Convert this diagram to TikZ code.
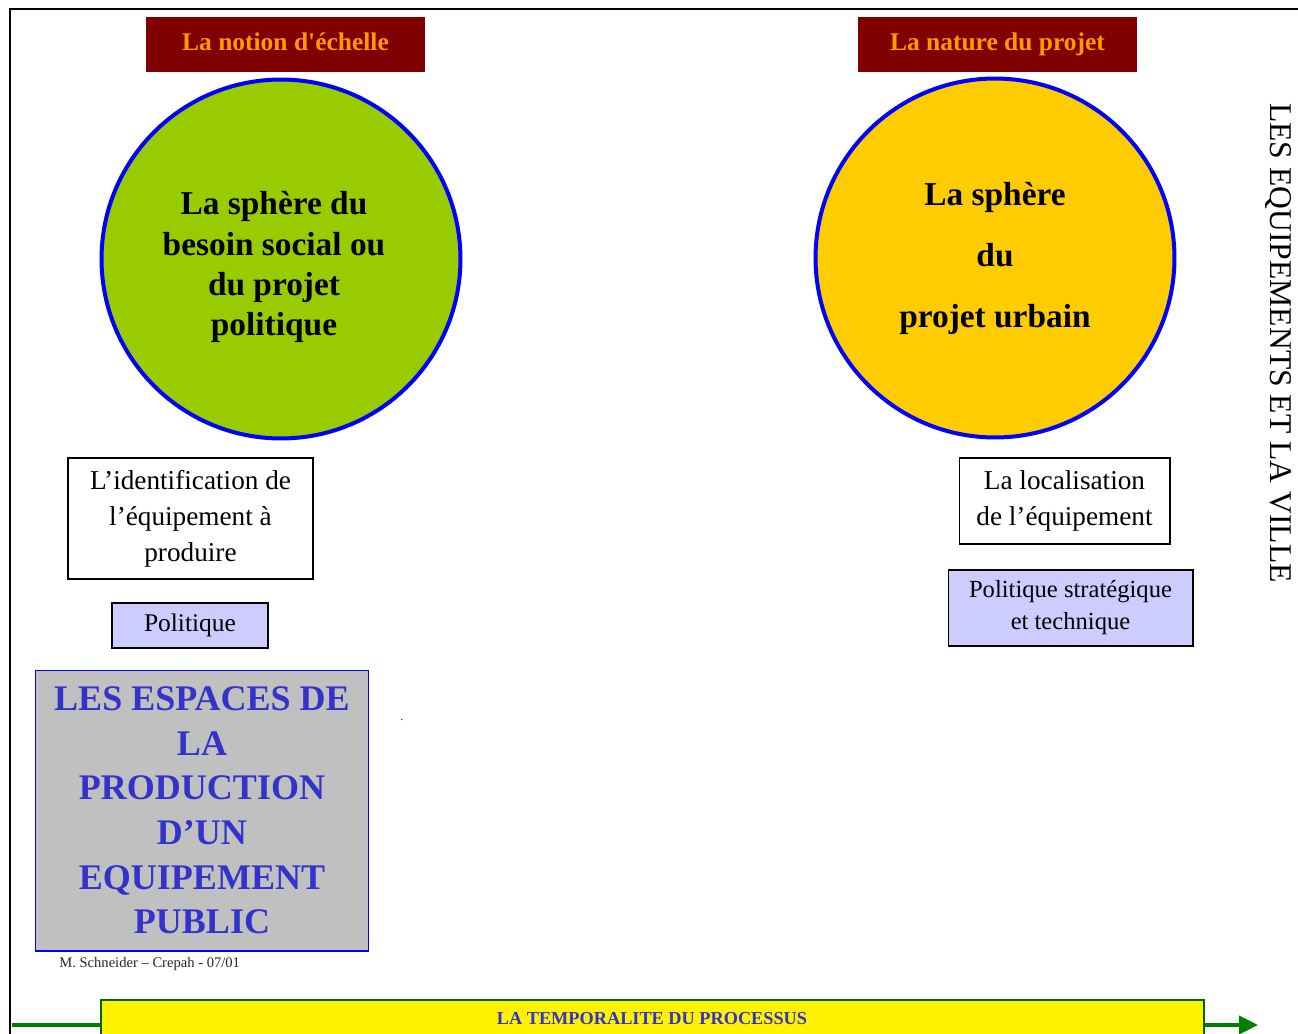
\documentclass[tikz,border=0pt]{standalone}
\usepackage{fontspec}
\setmainfont{Liberation Serif}
\usetikzlibrary{arrows.meta}
\definecolor{titlered}{HTML}{800000}
\definecolor{titleorange}{HTML}{FF9900}
\definecolor{sphgreen}{HTML}{99CC00}
\definecolor{sphyellow}{HTML}{FFCC00}
\definecolor{lavender}{HTML}{CCCCFF}
\definecolor{espblue}{HTML}{3333CC}
\definecolor{espgray}{HTML}{C0C0C0}
\definecolor{timegreen}{HTML}{008000}
\tikzset{
  titlebox/.style={fill=titlered, text=titleorange, inner sep=0pt,
    minimum width=5.58cm, minimum height=1.1cm, text height=10pt, text depth=3pt,
    font=\fontsize{14.5}{17}\selectfont\bfseries},
  sphere/.style={circle, draw=blue, line width=0.08cm, minimum size=7.18cm,
    inner sep=0pt, align=center, font=\fontsize{19}{22.8}\selectfont\bfseries},
  stagebox/.style={draw, line width=0.6pt, inner sep=0pt, align=center,
    font=\fontsize{15.5}{20.5}\selectfont},
  actorbox/.style={stagebox, fill=lavender},
}

\begin{document}
\begin{tikzpicture}[x=0.02cm, y=-0.02cm]
\useasboundingbox (0,0) rectangle (1298,1034);
% page frame
\draw[line width=0.04cm] (10,1050) -- (10,9) -- (1310,9);

% titles
\node[titlebox] (echelle) at (285.5,44.5) {La notion d\textquotesingle échelle};
\node[titlebox] (nature) at (997.5,44.5) {La nature du projet};

% spheres
\node[sphere, fill=sphgreen] (social) at (281,259) {};
\node[font=\fontsize{19}{22.8}\selectfont\bfseries, align=center] (socialtxt) at (274,267)
  {La sphère du\\besoin social ou\\du projet\\politique};
\node[sphere, fill=sphyellow, font=\fontsize{19}{34.7}\selectfont\bfseries] (urbain) at (995,258)
  {La sphère\\du\\projet urbain};

% stages
\node[stagebox, minimum width=4.9cm, minimum height=2.42cm] (ident) at (190.5,518.5)
  {L’identification de\\l’équipement à\\produire};
\node[actorbox, minimum width=3.12cm, minimum height=0.9cm,
  font=\fontsize{14.5}{17}\selectfont] (polit) at (190,625.5) {\raisebox{-2pt}{Politique}};
\node[stagebox, minimum width=4.22cm, minimum height=1.72cm] (local) at (1064.5,501)
  {La localisation\\de l’équipement};
\node[actorbox, minimum width=4.9cm, minimum height=1.52cm, font=\fontsize{14}{18.2}\selectfont] (strat) at (1070.5,608)
  {Politique stratégique\\et technique};

% espaces
\node[draw=blue, line width=0.6pt, fill=espgray, text=espblue, align=center,
  minimum width=6.68cm, minimum height=5.62cm, inner sep=0pt,
  font=\fontsize{20.5}{25.4}\selectfont\bfseries] (espaces) at (202,810.5)
  {LES ESPACES DE\\LA\\PRODUCTION\\D’UN\\EQUIPEMENT\\PUBLIC};
\node[anchor=west, inner sep=0pt, text=black!85, font=\fontsize{8.3}{10}\selectfont] (auteur) at (59,964)
  {M. Schneider – Crepah - 07/01};
\node[inner sep=0pt, font=\fontsize{6}{7}\selectfont] (speck) at (402,720) {.};

% side title
\node[rotate=-90, font=\fontsize{18}{20}\selectfont] (ville) at (1278,343)
  {LES EQUIPEMENTS ET LA VILLE};

% time axis
\coordinate (tstart) at (12,1025);
\coordinate (tend) at (1258,1025);
\draw[timegreen, line width=0.08cm, -{Triangle[length=0.38cm,width=0.36cm]}] (tstart) -- (tend);
\draw[draw=timegreen!80!black, line width=0.6pt, fill=yellow] (101,1000) rectangle (1204,1060);
\node[text=espblue, font=\fontsize{10.4}{12}\selectfont\bfseries] (temps) at (652,1019)
  {LA TEMPORALITE DU PROCESSUS};
\end{tikzpicture}
\end{document}
